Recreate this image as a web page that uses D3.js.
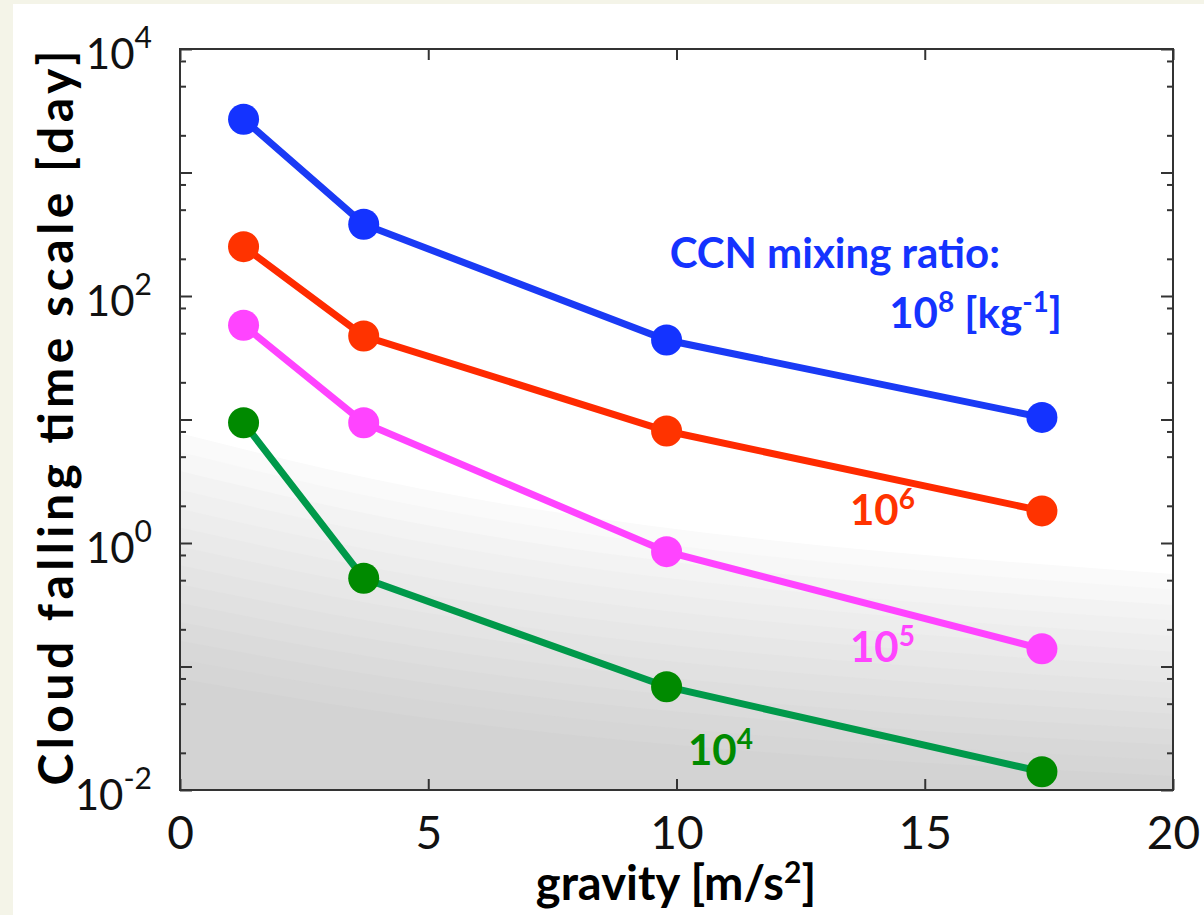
<!DOCTYPE html>
<html>
<head>
<meta charset="utf-8">
<script src="https://cdn.jsdelivr.net/npm/d3@7"></script>
<style>
  html, body { margin: 0; padding: 0; background: #f4f4e8; }
  svg { display: block; }
  text { font-family: Lato, "Open Sans", sans-serif; }
</style>
</head>
<body>
<svg id="chart" width="1204" height="915"></svg>
<script>
// ---------- data ----------
const gravity = [1.28, 3.7, 9.8, 17.36];
const seriesNames = ["1e8", "1e6", "1e5", "1e4"];
const blueVals = [2700, 381, 44, 10.4];
const redVals = [251, 47.4, 8.07, 1.82];
const magentaVals = [58, 9.42, 0.851, 0.139];
const greenVals = [9.42, 0.518, 0.0686, 0.01406];
const xTickValues = [0, 5, 10, 15, 20];
const yMajorExps = [4, 2, 0, -2];
const yMinorMult = [2, 5, 8];
// shaded region (filled contour bands): boundaries in data space
const shadeX = [0, 3, 20];
const shadeTop = [11.0, 5.5, 0.75];      // upper edge (faint)
const shadeBottom = [0.08, 0.05, 0.013]; // lower edge (full grey)

// ---------- layout ----------
const svg = d3.select("#chart");
const W = 1204, H = 915;
const L = 180, R = 1173, T = 49, B = 790;

svg.append("rect").attr("x", 13).attr("y", 4).attr("width", W - 13).attr("height", H - 4).attr("fill", "#ffffff");

const x = d3.scaleLinear().domain([0, 20]).range([L, R]);
const y = d3.scaleLog().domain([1e-2, 1e4]).range([B, T]);

const plot = svg.append("g");
plot.append("clipPath").attr("id", "clip").append("rect")
  .attr("x", L).attr("y", T).attr("width", R - L).attr("height", B - T);

// shading bands
const nb = 14;
const shadeG = plot.append("g").attr("clip-path", "url(#clip)");
const color = d3.interpolateRgb("#ffffff", "#d3d3d3");
function edge(t) {
  return shadeX.map((xv, i) => {
    const lt = Math.log10(shadeTop[i]), lb = Math.log10(shadeBottom[i]);
    return [xv, Math.pow(10, lt + (lb - lt) * t)];
  });
}
const area = d3.area()
  .x(d => x(d[0]))
  .y0(B)
  .y1(d => y(d[1]))
  .curve(d3.curveMonotoneX);
for (let i = 0; i <= nb; i++) {
  const t = i / nb;
  shadeG.append("path").datum(edge(t))
    .attr("d", area)
    .attr("fill", color(Math.pow(t, 0.85)));
}

// frame
plot.append("rect").attr("x", L).attr("y", T).attr("width", R - L).attr("height", B - T)
  .attr("fill", "none").attr("stroke", "#333").attr("stroke-width", 2);

// y ticks
const yMajor = yMajorExps.map(e => Math.pow(10, e)).concat([1e3, 1e1, 1e-1]);
const yMinor = [];
for (let e = -2; e < 4; e++) yMinorMult.forEach(m => yMinor.push(m * Math.pow(10, e)));
function styleAxis(g) {
  g.select(".domain").remove();
  g.selectAll(".tick line").attr("stroke", "#333").attr("stroke-width", 2);
  g.selectAll(".tick text").remove();
}
plot.append("g").attr("transform", `translate(${L},0)`)
  .call(d3.axisLeft(y).tickValues(yMajor).tickSize(-12).tickFormat("")).call(styleAxis);
plot.append("g").attr("transform", `translate(${L},0)`)
  .call(d3.axisLeft(y).tickValues(yMinor).tickSize(-6).tickFormat("")).call(styleAxis);
plot.append("g").attr("transform", `translate(${R},0)`)
  .call(d3.axisRight(y).tickValues(yMajor).tickSize(-12).tickFormat("")).call(styleAxis);
plot.append("g").attr("transform", `translate(${R},0)`)
  .call(d3.axisRight(y).tickValues(yMinor).tickSize(-6).tickFormat("")).call(styleAxis);

// x ticks
const xAxisG = plot.append("g").attr("transform", `translate(0,${B})`)
  .call(d3.axisBottom(x).tickValues(xTickValues).tickSize(-11).tickPadding(26).tickFormat(d3.format("d")));
xAxisG.select(".domain").remove();
xAxisG.selectAll(".tick line").attr("stroke", "#333").attr("stroke-width", 2);
xAxisG.selectAll(".tick text").attr("font-size", 46).attr("fill", "#111")
  .attr("font-family", "Lato, sans-serif");
const xTopG = plot.append("g").attr("transform", `translate(0,${T})`)
  .call(d3.axisTop(x).tickValues(xTickValues).tickSize(-11).tickFormat(""));
xTopG.select(".domain").remove();
xTopG.selectAll(".tick line").attr("stroke", "#333").attr("stroke-width", 2);

// y tick labels with superscripts
const yl = svg.append("g");
yMajorExps.forEach(e => {
  const t = yl.append("text")
    .attr("x", 152).attr("y", y(Math.pow(10, e)) + 20)
    .attr("text-anchor", "end").attr("font-size", 42).attr("fill", "#111");
  t.append("tspan").text("10");
  t.append("tspan").attr("dy", -21).attr("font-size", 30).text(String(e));
});

// series
const series = [
  { vals: blueVals, line: "#1a3af5", dot: "#1433ff" },
  { vals: redVals, line: "#ff2a00", dot: "#ff3300" },
  { vals: magentaVals, line: "#ff44ff", dot: "#ff44ff" },
  { vals: greenVals, line: "#00994a", dot: "#008a00" }
];
const line = d3.line().x(d => x(d[0])).y(d => y(d[1]));
series.forEach(s => {
  const pts = gravity.map((g, i) => [g, s.vals[i]]);
  plot.append("path").datum(pts).attr("d", line)
    .attr("fill", "none").attr("stroke", s.line).attr("stroke-width", 7);
  plot.selectAll(null).data(pts).enter().append("circle")
    .attr("cx", d => x(d[0])).attr("cy", d => y(d[1])).attr("r", 15.5)
    .attr("fill", s.dot);
});

// annotations
const ann = svg.append("g").attr("font-weight", "bold");
ann.append("text").attr("x", 1000).attr("y", 268).attr("text-anchor", "end")
  .attr("font-size", 42).attr("fill", "#1433ff").text("CCN mixing ratio:");
const a8 = ann.append("text").attr("x", 1062).attr("y", 328).attr("text-anchor", "end")
  .attr("font-size", 42).attr("fill", "#1433ff");
a8.append("tspan").text("10");
a8.append("tspan").attr("dy", -16).attr("font-size", 28).text("8");
a8.append("tspan").attr("dy", 16).text(" [kg");
a8.append("tspan").attr("dy", -16).attr("font-size", 28).text("-1");
a8.append("tspan").attr("dy", 16).text("]");
function pow10Label(xp, yp, exp, col) {
  const t = ann.append("text").attr("x", xp).attr("y", yp).attr("font-size", 42).attr("fill", col);
  t.append("tspan").text("10");
  t.append("tspan").attr("dy", -16).attr("font-size", 28).text(exp);
}
pow10Label(850, 525, "6", "#ff3300");
pow10Label(850, 662, "5", "#ff44ff");
pow10Label(688, 765, "4", "#008a00");

// axis titles
svg.append("text").attr("x", 676).attr("y", 900).attr("text-anchor", "middle")
  .attr("font-size", 47).attr("font-weight", "bold").attr("fill", "#000")
  .html('gravity [m/s<tspan dy="-17" font-size="30">2</tspan><tspan dy="17">]</tspan>');
svg.append("text").attr("transform", "translate(73,418) rotate(-90)")
  .attr("text-anchor", "middle").attr("font-size", 48).attr("font-weight", "bold").attr("fill", "#000")
  .attr("textLength", 735).attr("lengthAdjust", "spacing")
  .text("Cloud falling time scale [day]");
</script>
</body>
</html>
